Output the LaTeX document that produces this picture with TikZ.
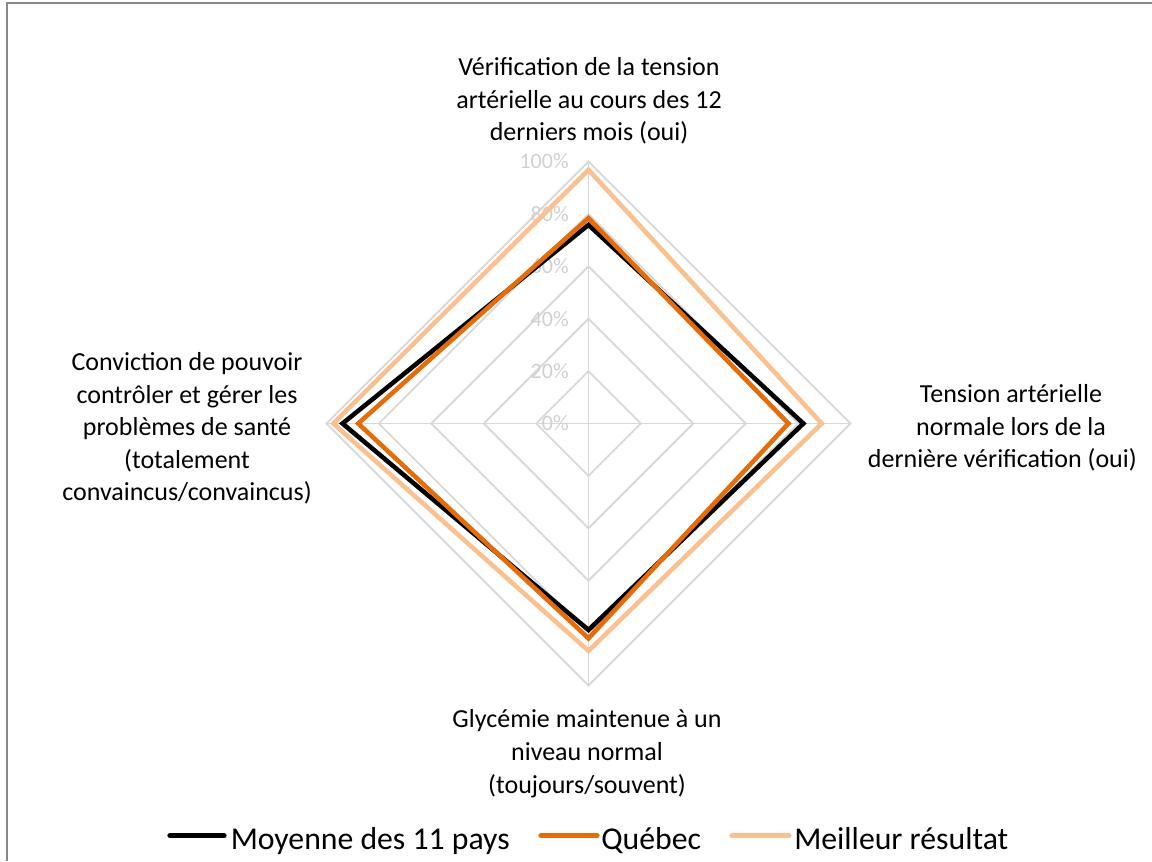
\documentclass[tikz,border=0pt]{standalone}
\usepackage{fontspec}
\setmainfont{Carlito}
\definecolor{gridgray}{HTML}{D9D9D9}
\definecolor{pctgray}{HTML}{D0D0D0}
\definecolor{framegray}{HTML}{888888}
\definecolor{quebec}{HTML}{E46C0A}
\definecolor{best}{HTML}{FAC090}
\begin{document}
\begin{tikzpicture}[x=0.75pt,y=0.75pt,
  gridline/.style={draw=gridgray, line width=1.4pt},
  series/.style={line width=3.4pt, miter limit=10, line join=miter},
  axislabel/.style={font=\fontsize{19.5pt}{24.4pt}\selectfont, align=center, inner sep=0pt, text=black},
  pct/.style={font=\fontsize{16.5pt}{18pt}\selectfont, text=pctgray, inner sep=0pt, anchor=east},
  legline/.style={line width=4pt, line cap=round},
  legtext/.style={font=\fontsize{23.8pt}{26pt}\selectfont, inner sep=0pt, anchor=base west}]
\useasboundingbox (0,0) rectangle (1152,861);
% frame (top and left edges visible)
\draw[framegray, line width=1.5pt] (7.3,0) -- (7.3,858.3) -- (1152,858.3);
\coordinate (c) at (588.5,437.5);
\begin{scope}[shift={(c)}]
  % grid diamonds
  \foreach \i in {1,...,5}
    \draw[gridline] (90:52.4*\i) -- (0:52.4*\i) -- (270:52.4*\i) -- (180:52.4*\i) -- cycle;
  % spokes
  \foreach \a in {90,0,270,180}
    \draw[gridline] (0,0) -- (\a:262);
  % percentage labels
  \foreach \i/\t in {0/0\%,1/20\%,2/40\%,3/60\%,4/80\%,5/100\%}
    \node[pct] (p\i) at (-19.5,52.4*\i) {\t};
  % data points
  \coordinate (m1) at (90:262*0.758);
  \coordinate (m2) at (0:262*0.82);
  \coordinate (m3) at (270:262*0.788);
  \coordinate (m4) at (180:262*0.939);
  \coordinate (q1) at (90:262*0.784);
  \coordinate (q2) at (0:262*0.763);
  \coordinate (q3) at (270:262*0.82);
  \coordinate (q4) at (180:262*0.879);
  \coordinate (b1) at (90:262*0.968);
  \coordinate (b2) at (0:262*0.89);
  \coordinate (b3) at (270:262*0.868);
  \coordinate (b4) at (180:262*0.974);
  \draw[series, black] (m1) -- (m2) -- (m3) -- (m4) -- cycle;
  \draw[series, quebec] (q1) -- (q2) -- (q3) -- (q4) -- cycle;
  \draw[series, best] (b1) -- (b2) -- (b3) -- (b4) -- cycle;
\end{scope}
% axis labels
\node[axislabel, anchor=base] (ltop) at (589,720) {V\'erification de la tension\\art\'erielle au cours des 12\\derniers mois (oui)};
\node[axislabel, anchor=base] (lright) at (1011,393) {Tension art\'erielle\\normale lors de la\\derni\`ere v\'erification (oui)\hspace*{13pt}};
\node[axislabel, anchor=base] (lbottom) at (587,68) {Glyc\'emie maintenue \`a un\\niveau normal\\(toujours/souvent)};
\node[axislabel, anchor=base] (lleft) at (187,360) {Conviction de pouvoir\\contr\^oler et g\'erer les\\probl\`emes de sant\'e\\(totalement\\convaincus/convaincus)};
% legend
\coordinate (k1a) at (170,25.3); \coordinate (k1b) at (224,25.3);
\coordinate (k2a) at (541,25.3); \coordinate (k2b) at (597,25.3);
\coordinate (k3a) at (732,25.3); \coordinate (k3b) at (789,25.3);
\draw[legline, black] (k1a) -- (k1b);
\draw[legline, quebec] (k2a) -- (k2b);
\draw[legline, best] (k3a) -- (k3b);
\node[legtext] (t1) at (230.5,11.7) {Moyenne des 11 pays};
\node[legtext] (t2) at (601,11.7) {Qu\'ebec};
\node[legtext] (t3) at (794,11.7) {Meilleur r\'esultat};
\end{tikzpicture}
\end{document}
